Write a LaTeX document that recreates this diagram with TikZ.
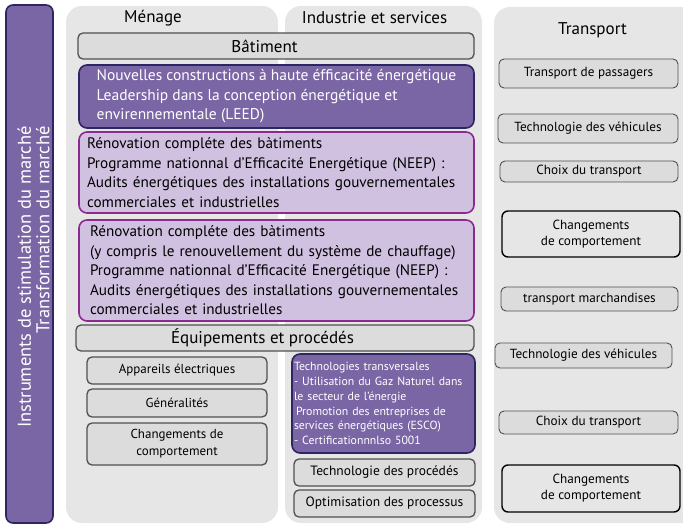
\documentclass[tikz,border=0pt]{standalone}
\usepackage{fontspec}
\setmainfont{PT Sans}
\definecolor{colgray}{HTML}{E6E6E6}
\definecolor{boxgray}{HTML}{DCDCDC}
\definecolor{lineGray}{HTML}{505050}
\definecolor{violetFill}{HTML}{7A65A5}
\definecolor{navyLine}{HTML}{2C2763}
\definecolor{lilacFill}{HTML}{D1C1E1}
\definecolor{plumLine}{HTML}{8A2A8E}
\begin{document}
\begin{tikzpicture}[x=1pt,y=-1pt,
  colbg/.style={fill=colgray, rounded corners=16pt},
  head/.style={font=\fontsize{17}{19}\selectfont},
  graybox/.style={draw=lineGray, fill=boxgray, rounded corners=5pt, line width=1.3pt, inner sep=0pt},
  darkbox/.style={draw=navyLine, fill=violetFill, text=white, rounded corners=8pt, line width=1.6pt, inner sep=0pt},
  lightbox/.style={draw=plumLine, fill=lilacFill, rounded corners=8pt, line width=1.6pt, inner sep=0pt},
  trbox/.style={draw=lineGray, fill=boxgray, rounded corners=5pt, line width=0.9pt, inner sep=0pt,
    font=\fontsize{13.2}{15.5}\selectfont},
  habbox/.style={draw=black, fill=colgray, rounded corners=6pt, line width=1.4pt, inner sep=0pt,
    font=\fontsize{13.2}{16}\selectfont, align=center},
  sz/.style 2 args={minimum width=#1pt, minimum height=#2pt}]
\useasboundingbox (0,0) rectangle (683,524);

% left bar
\draw[navyLine, fill=violetFill, line width=1.6pt, rounded corners=7pt] (6,5) rectangle (53,523);
\node[rotate=90, text=white, align=right, font=\fontsize{18.5}{18.5}\selectfont] (instr) at (33.5,277)
  {Instruments de stimulation du marché\\Transformation du marché};

% columns
\fill[colbg] (66,6) rectangle (278,523);
\fill[colbg] (285,6) rectangle (482,523);
\fill[colbg] (494,7) rectangle (700,523);
\node[head] (menage) at (153,18) {Ménage};
\node[head] (indus) at (374.5,18) {Industrie et services};
\node[head] (transp) at (592.5,30) {Transport};

% batiment
\node[graybox, sz={396}{26}, head] (bat) at (276,46) {\hspace*{-23pt}Bâtiment};
\node[darkbox, sz={395}{63}, align=left, font=\fontsize{15.5}{19.5}\selectfont] (neuf) at (276.5,96.5)
  {Nouvelles constructions à haute éfficacité énergétique\\
   Leadership dans la conception énergétique et\\
   envirennementale (LEED)};
\node[lightbox, sz={395}{81}, text width=379pt, inner xsep=8pt, align=left,
  font=\fontsize{15.2}{19.5}\selectfont] (renov1) at (276.5,172.5)
  {Rénovation compléte des bàtiments\\
   Programme nationnal d’Efficacité Energétique (NEEP) :\\
   Audits énergétiques des installations gouvernementales\\
   commerciales et industrielles};
\node[lightbox, sz={395}{101}, text width=373pt, inner xsep=11pt, align=left,
  font=\fontsize{15.2}{19.5}\selectfont] (renov2) at (276.5,270.5)
  {Rénovation compléte des bàtiments\\
   (y compris le renouvellement du système de chauffage)\\
   Programme nationnal d’Efficacité Energétique (NEEP) :\\
   Audits énergétiques des installations gouvernementales\\
   commerciales et industrielles};

% equipements
\node[graybox, sz={398}{26}, head] (equip) at (275,338) {\hspace*{-25pt}Équipements et procédés};
\node[graybox, sz={180}{27}, font=\fontsize{13}{16}\selectfont] (appar) at (177,370.5) {Appareils électriques};
\node[graybox, sz={180}{28}, font=\fontsize{13}{16}\selectfont] (gener) at (177,403) {Généralités};
\node[graybox, sz={180}{42}, align=center, font=\fontsize{13}{17}\selectfont] (chgm) at (177,444)
  {Changements de\\comportement};
\node[darkbox, sz={183}{99}, text width=179pt, inner xsep=2pt, align=left,
  font=\fontsize{11.8}{14.8}\selectfont] (trans) at (383.5,403.5)
  {Technologies transversales\\
   - Utilisation du Gaz Naturel dans\\
   le secteur de l’énergie\\
   \hspace*{2pt}Promotion des entreprises de\\
   services énergétiques (ESCO)\\
   - Certificationnnlso 5001};
\node[graybox, sz={181}{27}, font=\fontsize{13.5}{16}\selectfont] (proced) at (384.5,472.5) {Technologie des procédés};
\node[graybox, sz={181}{27}, font=\fontsize{13.5}{16}\selectfont] (optim) at (384.5,503.5) {Optimisation des processus};

% transport
\node[trbox, sz={179}{29}] (pass) at (588.5,73.5) {Transport de passagers};
\node[trbox, sz={180}{29}] (vehic1) at (588,128.5) {Technologie des véhicules};
\node[trbox, sz={178}{21}] (choix1) at (589,171.5) {Choix du transport};
\node[habbox, sz={178}{46}] (compt1) at (591,234) {Changements\\de comportement};
\node[trbox, sz={177}{24}] (march) at (589.5,299) {transport marchandises};
\node[trbox, sz={177}{25}] (vehic2) at (583.5,355.5) {Technologie des véhicules};
\node[trbox, sz={179}{23}] (choix2) at (588.5,422.5) {Choix du transport};
\node[habbox, sz={178}{47}] (compt2) at (591,488.5) {Changements\\de comportement};
\end{tikzpicture}
\end{document}
